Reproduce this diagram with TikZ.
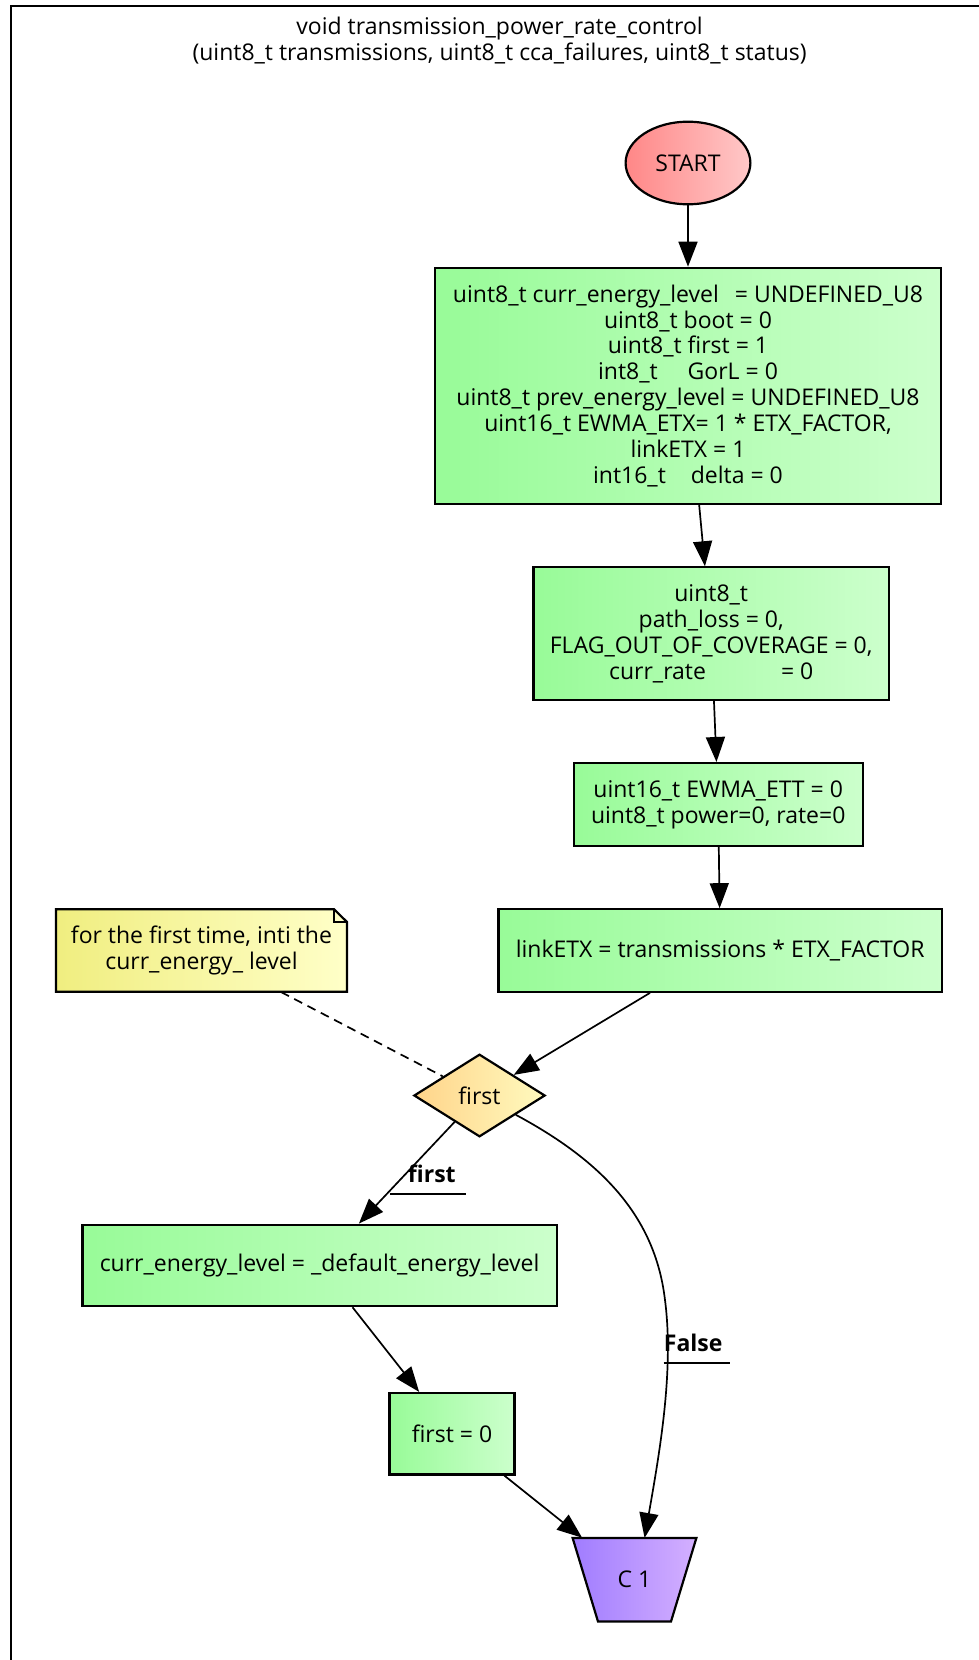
\documentclass[tikz,border=0pt]{standalone}
\usepackage{fontspec}
\setmainfont{Open Sans}
\usetikzlibrary{shapes.geometric,arrows.meta,calc}
\definecolor{gL}{RGB}{152,251,152}
\definecolor{gR}{RGB}{204,255,204}
\definecolor{nL}{RGB}{240,238,128}
\definecolor{nR}{RGB}{255,255,200}
\definecolor{dL}{RGB}{255,212,138}
\definecolor{dR}{RGB}{255,250,190}
\definecolor{sL}{RGB}{255,135,135}
\definecolor{sR}{RGB}{255,200,200}
\definecolor{cL}{RGB}{160,124,255}
\definecolor{cR}{RGB}{212,176,255}
\begin{document}
\begin{tikzpicture}[x=1pt,y=-1pt,
  font=\fontsize{23}{25.9}\selectfont,
  proc/.style={rectangle,draw,line width=2.2pt,left color=gL,right color=gR,align=center,inner sep=0pt},
  edge/.style={line width=1.7pt,-{Triangle[length=25pt,width=19pt]}},
  lbl/.style={font=\fontsize{23}{25.9}\selectfont\bfseries,inner sep=0pt}]
\clip (0,0) rectangle (979,1660);
\useasboundingbox (0,0) rectangle (979,1660);
% frame
\draw[line width=2pt] (10.6,1700) -- (10.6,6.3) -- (1000,6.3);
\node[align=center] (title) at (499.6,40.5) {void transmission\_power\_rate\_control\\(uint8\_t transmissions, uint8\_t cca\_failures, uint8\_t status)};
% nodes
\node[ellipse,draw,line width=2.2pt,left color=sL,right color=sR,minimum width=124.8pt,minimum height=82.6pt,inner sep=0pt] (start) at (688,163) {START};
\node[proc,minimum width=506pt,minimum height=236pt] (b1) at (688,385.8) {uint8\_t curr\_energy\_level\hspace{16pt}= UNDEFINED\_U8\\uint8\_t boot = 0\\uint8\_t first = 1\\int8\_t\hspace{30pt}GorL = 0\\uint8\_t prev\_energy\_level = UNDEFINED\_U8\\uint16\_t EWMA\_ETX= 1 * ETX\_FACTOR,\\linkETX = 1\\int16\_t\hspace{25pt}delta = 0};
\node[proc,minimum width=355.6pt,minimum height=132.3pt] (b2) at (711.2,633.5) {uint8\_t\\path\_loss = 0,\\FLAG\_OUT\_OF\_COVERAGE = 0,\\curr\_rate\hspace{75pt}= 0};
\node[proc,minimum width=288.9pt,minimum height=82.6pt] (b3) at (718.2,804.4) {uint16\_t EWMA\_ETT = 0\\uint8\_t power=0, rate=0};
\node[proc,minimum width=443.5pt,minimum height=82.5pt] (b4) at (720.2,950.5) {linkETX = transmissions * ETX\_FACTOR};
% note
\shade[left color=nL,right color=nR,draw,line width=2.2pt] (56,909.2) -- (334,909.2) -- (347,922) -- (347,991.7) -- (56,991.7) -- cycle;
\draw[line width=1.4pt] (334,909.2) -- (334,922) -- (347,922);
\node[align=center,minimum width=291pt,minimum height=82.5pt,inner sep=0pt] (note) at (201.5,950.5) {for the first time, inti the\\curr\_energy\_ level};
\node[diamond,draw,line width=2.2pt,left color=dL,right color=dR,minimum width=131.2pt,minimum height=82.6pt,inner sep=0pt] (d) at (479.5,1095.5) {first};
\node[proc,minimum width=474.1pt,minimum height=81.5pt] (b5) at (319.6,1265.4) {curr\_energy\_level = \_default\_energy\_level};
\node[proc,minimum width=124.9pt,minimum height=81.4pt] (b6) at (452,1433.7) {first = 0};
% C1 trapezoid
\shade[left color=cL,right color=cR,draw,line width=2.2pt] (572.6,1537.9) -- (696.4,1537.9) -- (671,1621.5) -- (598,1621.5) -- cycle;
\node[minimum width=123.8pt,minimum height=83.6pt,inner sep=0pt] (c1) at (634.5,1579.7) {C 1};
% edges
\draw[edge] (start) -- (b1);
\draw[edge] (b1) -- (b2);
\draw[edge] (b2) -- (b3);
\draw[edge] (b3) -- (b4);
\draw[edge] (b4) -- (d);
\draw[line width=1.7pt,dash pattern=on 9pt off 6pt] (note) -- (d);
\draw[edge] (d) -- (b5);
\draw[edge] (b5) -- (b6);
\draw[edge] (b6) -- (c1);
\coordinate (fend) at (644.6,1537.9);
\draw[edge] (d.-28) .. controls (600,1160) and (655,1215) .. (665,1300) .. controls (674,1370) and (660,1450) .. (fend);
% labels
\node[lbl] (lfirst) at (431.8,1174) {first};
\draw[line width=1.7pt] ($(lfirst.south)+(-42,11)$) -- ($(lfirst.south)+(34,11)$);
\node[lbl] (lfalse) at (693.2,1343) {False};
\draw[line width=1.7pt] ($(lfalse.south)+(-29.6,11)$) -- ($(lfalse.south)+(37,11)$);
\end{tikzpicture}
\end{document}
